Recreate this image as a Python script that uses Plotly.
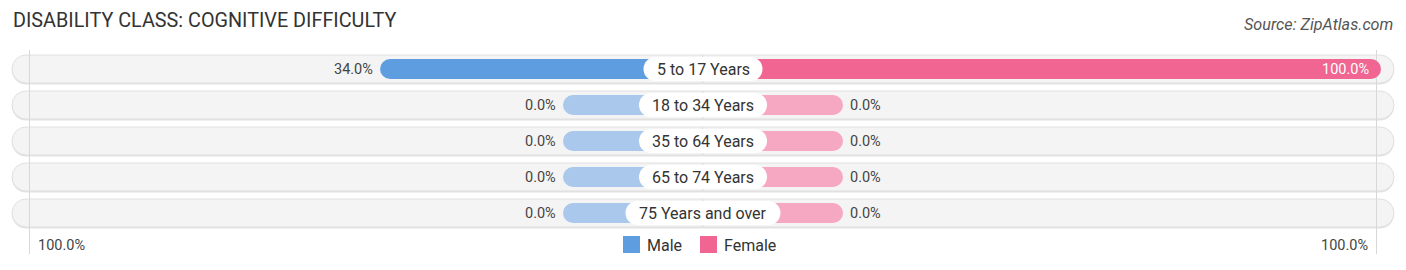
import plotly.graph_objects as go

# ---- data ----
categories = ["5 to 17 Years", "18 to 34 Years", "35 to 64 Years", "65 to 74 Years", "75 Years and over"]
male = [34.0, 0.0, 0.0, 0.0, 0.0]
female = [100.0, 0.0, 0.0, 0.0, 0.0]
title = "DISABILITY CLASS: COGNITIVE DIFFICULTY"
source = "Source: ZipAtlas.com"
axis_label = "100.0%"

# ---- layout constants ----
W, H = 1406, 270
PX = 6.78              # pixels per unit on x
STUB = 140 / PX        # minimum visible bar length
ROW0, ROWSTEP = 69, 36 # pixel y of first row centre, row spacing
MALE, MALE_L = "#5d9de0", "#a9c8ec"
FEMALE, FEMALE_L = "#f06591", "#f6a8c3"
FONT = "Roboto"

def disp(v):
    return STUB + v * (100 - STUB) / 100

ys = list(range(len(categories)))
fig = go.Figure()

# row background pills (shadow + body) on base axes
bg_half = 691 / PX
for sign in (-1, 1):
    fig.add_trace(go.Bar(
        y=[y + 1.5 / ROWSTEP for y in ys], x=[sign * bg_half] * len(ys), orientation="h",
        width=28 / ROWSTEP, marker=dict(color="#e3e3e3", cornerradius=14, line=dict(width=0)),
        showlegend=False, hoverinfo="skip", yaxis="y"))
for sign in (-1, 1):
    fig.add_trace(go.Bar(
        y=ys, x=[sign * bg_half] * len(ys), orientation="h", width=28 / ROWSTEP,
        marker=dict(color="#f4f4f4", line=dict(color="#e0e0e0", width=1), cornerradius=14),
        showlegend=False, hoverinfo="skip", yaxis="y"))

# gridlines (drawn over the row backgrounds, under the data bars)
grid_x = 673.5 / PX
for sx in (-grid_x, grid_x):
    fig.add_trace(go.Scatter(
        x=[sx, sx], y=[-19 / ROWSTEP, (254 - ROW0) / ROWSTEP], mode="lines",
        line=dict(color="#d8d8d8", width=1), showlegend=False, hoverinfo="skip", yaxis="y"))

# data bars on overlay axis y2
fig.add_trace(go.Bar(
    y=ys, x=[-disp(v) for v in male], orientation="h", width=20 / ROWSTEP, name="Male",
    marker=dict(color=[MALE if v > 0 else MALE_L for v in male], cornerradius=10, line=dict(width=0)),
    hoverinfo="skip", yaxis="y2"))
fig.add_trace(go.Bar(
    y=ys, x=[disp(v) for v in female], orientation="h", width=20 / ROWSTEP, name="Female",
    marker=dict(color=[FEMALE if v > 0 else FEMALE_L for v in female], cornerradius=10, line=dict(width=0)),
    hoverinfo="skip", yaxis="y2"))

# label pills (white) on overlay axis y3
for sign in (-1, 1):
    fig.add_trace(go.Bar(
        y=ys, x=[sign * (9 * len(c) + 2) / 2 / PX for c in categories], orientation="h",
        width=24 / ROWSTEP, marker=dict(color="white", cornerradius=12, line=dict(width=0)),
        showlegend=False, hoverinfo="skip", yaxis="y3"))

ann = []
for i, c in enumerate(categories):
    ann.append(dict(x=0, y=i, text=c, showarrow=False, xanchor="center", yanchor="middle",
                    font=dict(family=FONT, size=16, color="#333333")))
    ann.append(dict(x=-disp(male[i]), y=i, text=f"{male[i]:.1f}%", showarrow=False,
                    xanchor="right", yanchor="middle", xshift=-5,
                    font=dict(family=FONT, size=14.5, color="#444444")))
    if female[i] >= 90:
        ann.append(dict(x=disp(female[i]), y=i, text=f"{female[i]:.1f}%", showarrow=False,
                        xanchor="right", yanchor="middle", xshift=-10,
                        font=dict(family=FONT, size=14.5, color="white")))
    else:
        ann.append(dict(x=disp(female[i]), y=i, text=f"{female[i]:.1f}%", showarrow=False,
                        xanchor="left", yanchor="middle", xshift=5,
                        font=dict(family=FONT, size=14.5, color="#444444")))

# title / source / axis labels
ann.append(dict(x=11 / W, y=1 - 21 / H, xref="paper", yref="paper", text=title, showarrow=False,
                xanchor="left", yanchor="middle", font=dict(family=FONT, size=19.8, color="#333333")))
ann.append(dict(x=1395 / W, y=1 - 25 / H, xref="paper", yref="paper", text=f"<i>{source}</i>",
                showarrow=False, xanchor="right", yanchor="middle",
                font=dict(family=FONT, size=16.2, color="#555555")))
ann.append(dict(x=36 / W, y=1 - 245 / H, xref="paper", yref="paper", text=axis_label, showarrow=False,
                xanchor="left", yanchor="middle", font=dict(family=FONT, size=14.5, color="#444444")))
ann.append(dict(x=1370 / W, y=1 - 245 / H, xref="paper", yref="paper", text=axis_label, showarrow=False,
                xanchor="right", yanchor="middle", font=dict(family=FONT, size=14.5, color="#444444")))

# legend (manual)
shapes = []
leg = [("Male", MALE, 623), ("Female", FEMALE, 700)]
for name, col, px0 in leg:
    shapes.append(dict(type="rect", xref="paper", yref="paper", x0=px0 / W, x1=(px0 + 17) / W,
                       y0=1 - 253 / H, y1=1 - 236 / H, fillcolor=col, line=dict(width=0)))
    ann.append(dict(x=(px0 + 22) / W, y=1 - 245 / H, xref="paper", yref="paper", text=name,
                    showarrow=False, xanchor="left", yanchor="middle",
                    font=dict(family=FONT, size=16, color="#333333")))

xr = W / 2 / PX
yr = [(H - ROW0) / ROWSTEP, -ROW0 / ROWSTEP]
yax = dict(range=yr, visible=False, fixedrange=True)
fig.update_layout(
    width=W, height=H, autosize=False,
    margin=dict(l=0, r=0, t=0, b=0),
    paper_bgcolor="white", plot_bgcolor="white",
    barmode="overlay", showlegend=False,
    xaxis=dict(range=[-xr, xr], visible=False, fixedrange=True),
    yaxis=yax,
    yaxis2=dict(yax, overlaying="y"),
    yaxis3=dict(yax, overlaying="y"),
    annotations=ann, shapes=shapes,
)
fig.write_html("out.html")
